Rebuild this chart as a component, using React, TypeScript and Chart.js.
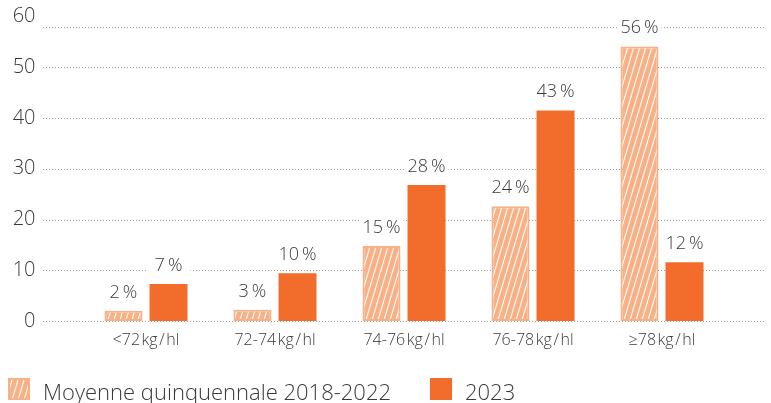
import React, { useEffect, useRef } from "react";
import { Chart, registerables } from "chart.js";

Chart.register(...registerables);

// ---- data ----
const categories = [
  "<72\u200Akg\u200A/\u200Ahl",
  "72-74\u200Akg\u200A/\u200Ahl",
  "74-76\u200Akg\u200A/\u200Ahl",
  "76-78\u200Akg\u200A/\u200Ahl",
  "\u226578\u200Akg\u200A/\u200Ahl",
];
const seriesNames = ["Moyenne quinquennale 2018-2022", "2023"];
const averageValues = [2.0, 2.2, 14.8, 22.6, 54.1];
const values2023 = [7.3, 9.4, 26.8, 41.5, 11.6];
const averageLabels = ["2\u2009%", "3\u2009%", "15\u2009%", "24\u2009%", "56\u2009%"];
const labels2023 = ["7\u2009%", "10\u2009%", "28\u2009%", "43\u2009%", "12\u2009%"];
const gridValues = [0, 10, 20, 30, 40, 50, 58];
const yMin = 0;
const yMax = 60;
const yStep = 10;

// ---- styles ----
const ORANGE = "#F26D2B";
const PEACH = "#F8B186";
const TEXT = "#3a3a3a";
const GRID = "#9a9a9a";
const FONT = "'Open Sans', 'DejaVu Sans', sans-serif";
const WEIGHT = 300;

function makeHatch(): CanvasPattern | string {
  const c = document.createElement("canvas");
  c.width = 6;
  c.height = 20;
  const g = c.getContext("2d");
  if (!g) return PEACH;
  g.fillStyle = PEACH;
  g.fillRect(0, 0, 6, 20);
  g.strokeStyle = "rgba(255,255,255,0.95)";
  g.lineWidth = 1.1;
  for (const dx of [-6, 0, 6]) {
    g.beginPath();
    g.moveTo(dx, 20);
    g.lineTo(dx + 6, 0);
    g.stroke();
  }
  const p = g.createPattern(c, "repeat");
  return p || PEACH;
}

export default function App() {
  const ref = useRef<HTMLCanvasElement | null>(null);

  useEffect(() => {
    const canvas = ref.current;
    if (!canvas) return;
    const hatch = makeHatch();
    const barLabels = [averageLabels, labels2023];

    const gridPlugin = {
      id: "customGrid",
      beforeDatasetsDraw(chart: any) {
        const ctx = chart.ctx;
        const y = chart.scales.y;
        ctx.save();
        ctx.strokeStyle = GRID;
        ctx.lineWidth = 1;
        ctx.setLineDash([1, 2]);
        for (const v of gridValues) {
          const py = Math.round(y.getPixelForValue(v)) + 0.5;
          ctx.beginPath();
          ctx.moveTo(43, py);
          ctx.lineTo(764, py);
          ctx.stroke();
        }
        ctx.setLineDash([]);
        // white knock-out behind value labels
        ctx.font = `${WEIGHT} 18px ${FONT}`;
        chart.data.datasets.forEach((_ds: any, di: number) => {
          const meta = chart.getDatasetMeta(di);
          meta.data.forEach((el: any, i: number) => {
            const txt = barLabels[di][i];
            const tw = ctx.measureText(txt).width;
            const half = Math.max(el.width / 2 + 3, tw / 2 + 3);
            const base = el.y - 13;
            ctx.fillStyle = "#ffffff";
            ctx.fillRect(el.x - half, base - 17, half * 2, 20);
          });
        });
        ctx.restore();
      },
      afterDatasetsDraw(chart: any) {
        const ctx = chart.ctx;
        ctx.save();
        ctx.font = `${WEIGHT} 18px ${FONT}`;
        ctx.fillStyle = TEXT;
        ctx.textAlign = "center";
        ctx.textBaseline = "alphabetic";
        chart.data.datasets.forEach((_ds: any, di: number) => {
          const meta = chart.getDatasetMeta(di);
          meta.data.forEach((el: any, i: number) => {
            ctx.fillText(barLabels[di][i], el.x, el.y - 13);
          });
        });
        ctx.restore();
      },
      afterDraw(chart: any) {
        const ctx = chart.ctx;
        ctx.save();
        // legend item 1 (hatched)
        ctx.fillStyle = PEACH;
        ctx.fillRect(8, 378, 22, 22);
        ctx.fillStyle = hatch as any;
        ctx.fillRect(10, 380, 18, 18);
        // legend item 2 (solid)
        ctx.fillStyle = ORANGE;
        ctx.fillRect(430, 378, 22, 22);
        ctx.fillStyle = TEXT;
        ctx.font = `${WEIGHT} 22px ${FONT}`;
        ctx.textAlign = "left";
        ctx.textBaseline = "alphabetic";
        ctx.fillText(seriesNames[0], 43, 400);
        ctx.fillText(seriesNames[1], 465, 400);
        ctx.restore();
      },
    };

    const chart = new Chart(canvas, {
      type: "bar",
      data: {
        labels: categories,
        datasets: [
          {
            label: seriesNames[0],
            data: averageValues,
            backgroundColor: hatch as any,
            borderColor: PEACH,
            borderWidth: 2,
            borderSkipped: false,
            categoryPercentage: 0.698,
            barPercentage: 0.844,
          },
          {
            label: seriesNames[1],
            data: values2023,
            backgroundColor: ORANGE,
            borderWidth: 0,
            categoryPercentage: 0.698,
            barPercentage: 0.844,
          },
        ],
      },
      options: {
        responsive: false,
        animation: false,
        layout: { padding: { top: 16.5, right: 44.5, bottom: 0, left: 0 } },
        plugins: {
          legend: { display: false },
          tooltip: { enabled: false },
        },
        scales: {
          x: {
            grid: { display: false, drawTicks: false },
            border: { display: false },
            ticks: {
              color: TEXT,
              font: { family: FONT, size: 16, weight: WEIGHT as any },
              padding: 10,
            },
            afterFit(scale: any) {
              scale.height = 82;
            },
          },
          y: {
            min: yMin,
            max: yMax,
            grid: { display: false, drawTicks: false },
            border: { display: false },
            ticks: {
              stepSize: yStep,
              color: TEXT,
              font: { family: FONT, size: 20, weight: WEIGHT as any },
              padding: 46,
            },
            afterFit(scale: any) {
              scale.width = 81.5;
              scale.paddingTop = 0;
              scale.paddingBottom = 0;
            },
          },
        },
      },
      plugins: [gridPlugin],
    });

    return () => chart.destroy();
  }, []);

  return (
    <div style={{ position: "absolute", left: 0, top: 0, width: 771, height: 403, background: "#fff" }}>
      <canvas ref={ref} width={771} height={403} style={{ display: "block" }} />
    </div>
  );
}
